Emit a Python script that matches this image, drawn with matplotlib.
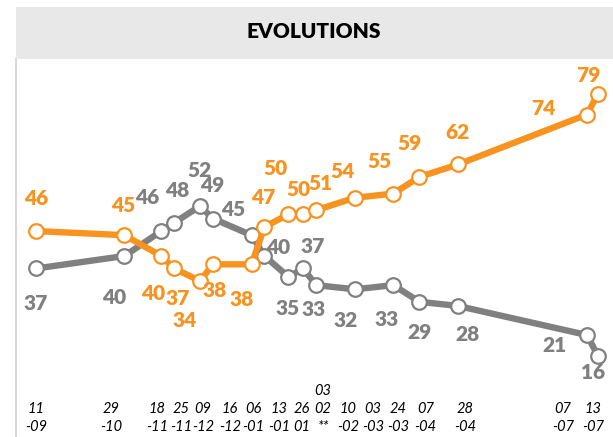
import matplotlib
matplotlib.use("Agg")
import matplotlib.pyplot as plt
import matplotlib.dates as mdates
from matplotlib.patches import Rectangle
import datetime as dt

# ---------------- data ----------------
dates = ["2016-09-11", "2016-10-29", "2016-11-18", "2016-11-25", "2016-12-09",
         "2016-12-16", "2017-01-06", "2017-01-13", "2017-01-26", "2017-02-03",
         "2017-02-10", "2017-03-03", "2017-03-24", "2017-04-07", "2017-04-28",
         "2017-07-07", "2017-07-13"]
tick_labels = ["11\n-09", "29\n-10", "18\n-11", "25\n-11", "09\n-12", "16\n-12",
               "06\n-01", "13\n-01", "26\n01", "03\n02\n**", "10\n-02", "03\n-03",
               "24\n-03", "07\n-04", "28\n-04", "07\n-07", "13\n-07"]
orange_values = [46, 45, 40, 37, 34, 38, 38, 47, 50, 50, 51, 54, 55, 59, 62, 74, 79]
gray_values = [37, 40, 46, 48, 52, 49, 45, 40, 35, 37, 33, 32, 33, 29, 28, 21, 16]

# label placement offsets (pixels) – layout only
orange_lbl_off = [(0, 33), (-1, 30), (-8, -37), (3, -30), (-15, -40), (2, -26), (-10, -35),
                  (-1, 29), (-13, 46), (-5, 25), (4, 27), (-12, 26), (-14, 32), (-10, 33),
                  (0, 32), (-44, 6), (-10, 18)]
gray_lbl_off = [(0, -35), (-10, -41), (-14, 34), (3, 32), (0, 36), (-1, 33), (-18, 26),
                (14, 9), (-1, -32), (9, 22), (-2, -24), (-9, -31), (-7, -34), (0, -31),
                (10, -29), (-33, -10), (-5, -17)]
tick_off = [0, -13, -4, 7, 3, 17, 2, 15, 13, 20, 32, 18, 5, 6, 7, -24, -5]

ORANGE = "#F7931E"
GRAY = "#808080"

x = [mdates.date2num(dt.date.fromisoformat(d)) for d in dates]

W, H = 613, 437
fig = plt.figure(figsize=(W / 100, H / 100), dpi=100)
fig.patch.set_facecolor("white")

# header band
fig.patches.append(Rectangle((16 / W, (H - 59) / H), (W - 16) / W, 52 / H,
                             transform=fig.transFigure, facecolor="#E8E8E8",
                             edgecolor="none", zorder=0))
fig.text(314 / W, (H - 32) / H, "EVOLUTIONS", ha="center", va="center",
         fontsize=15, fontweight="heavy", family="Lato", color="black")

ax = fig.add_axes([16 / W, 0, (W - 16) / W, (H - 59) / H])
ax.set_facecolor("none")
x0 = x[0] - 20 / 1.843
x1 = x[-1] + 15 / 1.843
ax.set_xlim(x0, x1)
ax.set_ylim(-3.5, 87.35)
for s in ["top", "right", "bottom"]:
    ax.spines[s].set_visible(False)
ax.spines["left"].set_color("#D9D9D9")
ax.spines["left"].set_linewidth(1.5)
ax.set_xticks([])
ax.set_yticks([])

ax.plot(x, gray_values, color=GRAY, lw=4.6, marker="o", ms=10.5,
        mfc="white", mec=GRAY, mew=1.6, solid_capstyle="round", zorder=3)
ax.plot(x, orange_values, color=ORANGE, lw=4.6, marker="o", ms=10.5,
        mfc="white", mec=ORANGE, mew=1.6, solid_capstyle="round", zorder=4)

for xi, v, (dx, dy) in zip(x, orange_values, orange_lbl_off):
    ax.annotate(str(v), (xi, v), xytext=(dx, dy), textcoords="offset pixels",
                ha="center", va="center", color=ORANGE, fontsize=15,
                fontweight="heavy", family="Lato", zorder=6)
for xi, v, (dx, dy) in zip(x, gray_values, gray_lbl_off):
    ax.annotate(str(v), (xi, v), xytext=(dx, dy), textcoords="offset pixels",
                ha="center", va="center", color=GRAY, fontsize=15,
                fontweight="heavy", family="Lato", zorder=6)

for xi, lab, dx in zip(x, tick_labels, tick_off):
    ax.annotate(lab, (xi, 0), xycoords=("data", "axes fraction"),
                xytext=(dx, 3), textcoords="offset pixels", ha="center",
                va="bottom", fontsize=10.5, fontstyle="italic", family="Lato",
                linespacing=1.35, color="black")

fig.savefig("out.png", dpi=100)
